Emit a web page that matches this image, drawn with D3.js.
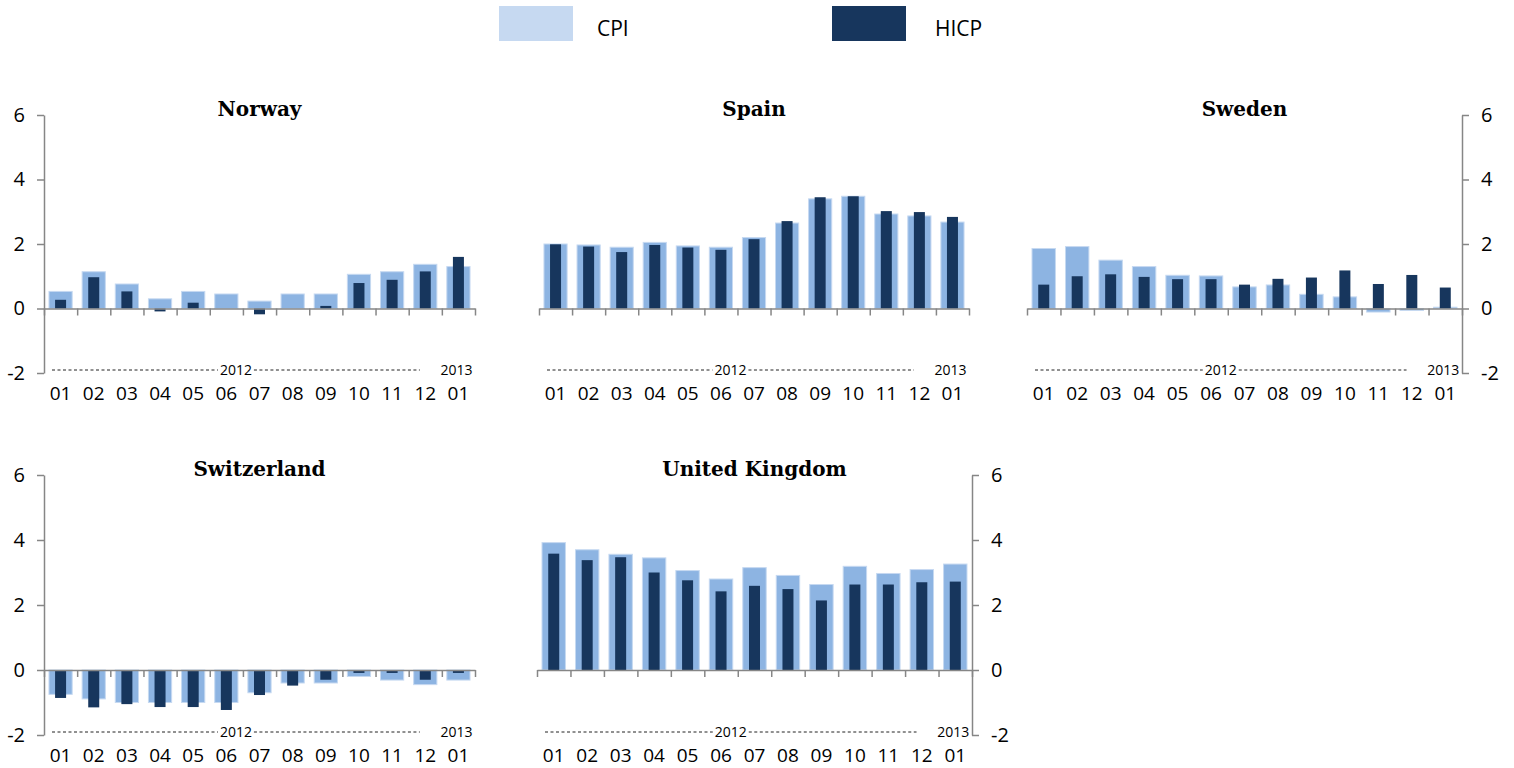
<!DOCTYPE html>
<html>
<head>
<meta charset="utf-8">
<script src="https://cdn.jsdelivr.net/npm/d3@7"></script>
<style>
  body { margin: 0; background: #fff; }
  text { font-family: "Open Sans", sans-serif; fill: #000; }
</style>
</head>
<body>
<svg width="1514" height="768"></svg>
<script>
var width = 1514;
var height = 768;

//Month labels along the bottom.
var months = ["01","02","03","04","05","06","07","08","09","10","11","12","01"];
var yTicks = [-2, 0, 2, 4, 6];

//Values, annual rate of change in percent.
var norwayCPI  = [0.53, 1.14, 0.76, 0.30, 0.53, 0.45, 0.23, 0.45, 0.45, 1.06, 1.14, 1.37, 1.30];
var norwayHICP = [0.27, 0.97, 0.53, -0.09, 0.18, 0.00, -0.18, 0.00, 0.08, 0.79, 0.89, 1.15, 1.60];

var spainCPI  = [2.00, 1.97, 1.90, 2.05, 1.94, 1.90, 2.20, 2.65, 3.40, 3.48, 2.93, 2.87, 2.68];
var spainHICP = [1.99, 1.92, 1.75, 1.97, 1.89, 1.82, 2.15, 2.71, 3.45, 3.48, 3.02, 2.99, 2.84];

var swedenCPI  = [1.86, 1.92, 1.50, 1.30, 1.03, 1.01, 0.67, 0.73, 0.44, 0.36, -0.11, -0.06, 0.04];
var swedenHICP = [0.74, 1.00, 1.06, 0.98, 0.91, 0.91, 0.74, 0.92, 0.96, 1.18, 0.76, 1.04, 0.65];

var swissCPI  = [-0.75, -0.89, -1.00, -1.00, -1.00, -1.00, -0.70, -0.40, -0.40, -0.20, -0.31, -0.45, -0.31];
var swissHICP = [-0.86, -1.15, -1.05, -1.14, -1.14, -1.23, -0.77, -0.48, -0.30, -0.09, -0.09, -0.30, -0.09];

var ukCPI  = [3.92, 3.70, 3.56, 3.45, 3.06, 2.80, 3.15, 2.91, 2.63, 3.19, 2.97, 3.09, 3.26];
var ukHICP = [3.58, 3.38, 3.47, 3.00, 2.76, 2.42, 2.59, 2.49, 2.14, 2.63, 2.63, 2.70, 2.72];

var cpiColor  = "#8db4e2";
var cpiEdge   = "#c6d9f1";
var hicpColor = "#17365d";
var axisColor = "#868686";

var svg = d3.select("svg");

//Where each small chart sits, axis tells which side the y axis is on.
var panels = [
  {name: "Norway",         cpi: norwayCPI, hicp: norwayHICP, x0: 44,   x1: 475,  top: 115, bottom: 373, axis: "left"},
  {name: "Spain",          cpi: spainCPI,  hicp: spainHICP,  x0: 539,  x1: 969,  top: 115, bottom: 373, axis: "none"},
  {name: "Sweden",         cpi: swedenCPI, hicp: swedenHICP, x0: 1027, x1: 1462, top: 115, bottom: 373, axis: "right"},
  {name: "Switzerland",    cpi: swissCPI,  hicp: swissHICP,  x0: 44,   x1: 475,  top: 475, bottom: 735, axis: "left"},
  {name: "United Kingdom", cpi: ukCPI,     hicp: ukHICP,     x0: 537,  x1: 972,  top: 475, bottom: 735, axis: "right"}
];

function drawPanel (p) {
  var g = svg.append("g");

  var x = d3.scaleBand().domain(d3.range(months.length)).range([p.x0, p.x1]);
  var xEdge = d3.scaleLinear().domain([0, months.length]).range([p.x0, p.x1]);
  var y = d3.scaleLinear().domain([-2, 6]).range([p.bottom, p.top]);
  var bw = x.bandwidth();

  // CPI bars, wide and light
  g.selectAll(".cpi")
    .data(p.cpi)
    .enter()
    .append("rect")
    .attr("x", function (d, i) { return x(i) + bw * 0.15; })
    .attr("width", bw * 0.7)
    .attr("y", function (d) { return y(Math.max(d, 0)); })
    .attr("height", function (d) { return Math.abs(y(d) - y(0)); })
    .attr("fill", cpiColor)
    .attr("stroke", cpiEdge)
    .attr("stroke-width", 1);

  // HICP bars, narrow and dark
  g.selectAll(".hicp")
    .data(p.hicp)
    .enter()
    .append("rect")
    .attr("x", function (d, i) { return x(i) + bw / 2 - 5.5; })
    .attr("width", 11)
    .attr("y", function (d) { return y(Math.max(d, 0)); })
    .attr("height", function (d) { return Math.abs(y(d) - y(0)); })
    .attr("fill", hicpColor);

  // x axis on the zero line, ticks between months
  var xAxis = g.append("g")
    .attr("transform", "translate(0," + y(0) + ")")
    .call(d3.axisBottom(xEdge).tickValues(d3.range(months.length + 1)).tickFormat("").tickSizeInner(7).tickSizeOuter(0));
  xAxis.selectAll("path, line").attr("stroke", axisColor).attr("stroke-width", 1.5);

  // y axis
  if (p.axis != "none") {
    var side = p.axis == "left" ? p.x0 : p.x1;
    var axisFn = p.axis == "left" ? d3.axisLeft(y) : d3.axisRight(y);
    var yAxis = g.append("g")
      .attr("transform", "translate(" + side + ",0)")
      .call(axisFn.tickValues(yTicks)
        .tickFormat(function (d) { return String(d); })
        .tickSizeInner(7).tickSizeOuter(0).tickPadding(12));
    yAxis.selectAll("path, line").attr("stroke", axisColor).attr("stroke-width", 1.5);
    yAxis.selectAll("text")
      .style("font-family", "'Open Sans', sans-serif")
      .style("font-size", "20px")
      .attr("fill", "#000");
  }

  // month labels
  g.selectAll(".month")
    .data(months)
    .enter()
    .append("text")
    .attr("x", function (d, i) { return x(i) + bw / 2; })
    .attr("y", p.bottom + 26.5)
    .style("text-anchor", "middle")
    .style("font-size", "19px")
    .text(function (d) { return d; });

  // year line: ----2012---- and 2013
  var dashStart = xEdge(0) + 8;
  var dashEnd = xEdge(12) - 22;
  var mid = (dashStart + dashEnd) / 2;
  g.append("line")
    .attr("x1", dashStart).attr("x2", mid - 18)
    .attr("y1", p.bottom - 3).attr("y2", p.bottom - 3)
    .attr("stroke", "#222").attr("stroke-dasharray", "3,2.5");
  g.append("line")
    .attr("x1", mid + 18).attr("x2", dashEnd)
    .attr("y1", p.bottom - 3).attr("y2", p.bottom - 3)
    .attr("stroke", "#222").attr("stroke-dasharray", "3,2.5");
  g.append("text")
    .attr("x", mid).attr("y", p.bottom + 2)
    .style("text-anchor", "middle").style("font-size", "14px")
    .text("2012");
  g.append("text")
    .attr("x", x(12) + bw / 2 - 2).attr("y", p.bottom + 2)
    .style("text-anchor", "middle").style("font-size", "14px")
    .text("2013");

  // panel title
  g.append("text")
    .attr("x", (p.x0 + p.x1) / 2)
    .attr("y", p.top + 1)
    .style("text-anchor", "middle")
    .style("font-family", "'DejaVu Serif', serif")
    .style("font-weight", "bold")
    .style("font-size", "20px")
    .text(p.name);
}

panels.forEach(drawPanel);

//Legend at the top.
var legend = [
  {label: "CPI",  color: cpiEdge,   x: 499, tx: 597},
  {label: "HICP", color: hicpColor, x: 832, tx: 935}
];

svg.selectAll(".legrect")
  .data(legend)
  .enter()
  .append("rect")
  .attr("x", function (d) { return d.x; })
  .attr("y", 6)
  .attr("width", 74)
  .attr("height", 35)
  .attr("fill", function (d) { return d.color; });

svg.selectAll(".legtext")
  .data(legend)
  .enter()
  .append("text")
  .attr("x", function (d) { return d.tx; })
  .attr("y", 36)
  .style("font-size", "21px")
  .text(function (d) { return d.label; });
</script>
</body>
</html>
